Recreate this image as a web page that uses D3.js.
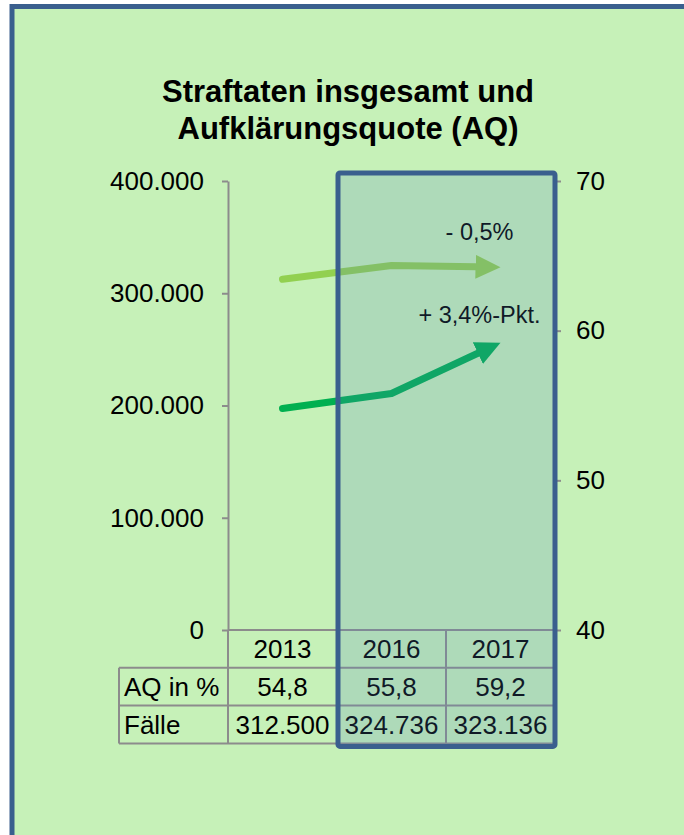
<!DOCTYPE html>
<html>
<head>
<meta charset="utf-8">
<script src="https://cdn.jsdelivr.net/npm/d3@7"></script>
<style>
  body { margin: 0; background: #fff; }
  text { font-family: "Liberation Sans", Arial, sans-serif; }
</style>
</head>
<body>
<div class="chart"></div>
<script>
// chart data
const years = ['2013', '2016', '2017'];
const faelle = [312500, 324736, 323136];
const aq = [54.8, 55.8, 59.2];
const leftTicks = [0, 100000, 200000, 300000, 400000];
const rightTicks = [40, 50, 60, 70];
const rowLabels = ['AQ in %', 'Fälle'];
const highlightYears = ['2016', '2017'];
const titleLines = ['Straftaten insgesamt und', 'Aufklärungsquote (AQ)'];
const changeLabels = ['- 0,5%', '+ 3,4%-Pkt.'];

const de = d3.formatLocale({ decimal: ',', thousands: '.', grouping: [3], currency: ['', ' €'] });
const fmtInt = de.format(',d');
const fmtPct = de.format(',.1f');

const W = 684, H = 835;
const margin = { top: 181, right: 129, bottom: 205, left: 228 };
const rowH = 37.8;
const fs = 26;

const svg = d3.select('.chart').append('svg')
    .attr('width', W)
    .attr('height', H);

// panel background + frame
svg.append('rect')
    .attr('x', 12).attr('y', 6.5)
    .attr('width', W + 20).attr('height', H + 20)
    .attr('fill', '#c6f1b8')
    .attr('stroke', '#3a5f8e')
    .attr('stroke-width', 5);

// title
svg.append('text')
    .attr('x', 348)
    .attr('text-anchor', 'middle')
    .attr('font-weight', 'bold')
    .attr('font-size', 31)
    .selectAll('tspan')
    .data(titleLines)
    .join('tspan')
    .attr('x', 348)
    .attr('y', (d, i) => 102 + i * 37)
    .text(d => d);

// scales
let xScale = d3.scaleBand()
    .domain(years)
    .range([margin.left, W - margin.right]);

let yLeft = d3.scaleLinear()
    .domain([0, 400000])
    .range([H - margin.bottom, margin.top]);

let yRight = d3.scaleLinear()
    .domain([40, 70])
    .range([H - margin.bottom, margin.top]);

const cx = d => xScale(d) + xScale.bandwidth() / 2;

// axes
const leftAxis = d3.axisLeft(yLeft)
    .tickValues(leftTicks)
    .tickFormat(fmtInt)
    .tickSize(6)
    .tickSizeOuter(0)
    .tickPadding(18);

const rightAxis = d3.axisRight(yRight)
    .tickValues(rightTicks)
    .tickSize(6)
    .tickSizeOuter(0)
    .tickPadding(15);

function styleAxis(g) {
    g.select('.domain').attr('stroke', '#8c8c8c').attr('stroke-width', 2);
    g.selectAll('.tick line').attr('stroke', '#8c8c8c').attr('stroke-width', 2);
    g.selectAll('.tick text').attr('fill', '#000').attr('font-size', fs)
        .attr('font-family', '"Liberation Sans", Arial, sans-serif');
}

svg.append('g')
    .attr('class', 'axis y-left')
    .attr('transform', `translate(${margin.left},0)`)
    .call(leftAxis)
    .call(styleAxis);

svg.append('g')
    .attr('class', 'axis y-right')
    .attr('transform', `translate(${W - margin.right},0)`)
    .call(rightAxis)
    .call(styleAxis);

// data table below the plot
const tableTop = H - margin.bottom;
const x0 = margin.left, x1 = W - margin.right;
const labelX = x0 - xScale.bandwidth();
const table = svg.append('g').attr('class', 'table');
const gray = '#8c8c8c';

// horizontal rules
table.selectAll('.hrule')
    .data([0, 1, 2, 3])
    .join('line')
    .attr('x1', d => d === 0 ? x0 : labelX)
    .attr('x2', x1)
    .attr('y1', d => tableTop + d * rowH)
    .attr('y2', d => tableTop + d * rowH)
    .attr('stroke', gray)
    .attr('stroke-width', 2);

// vertical rules
const edges = years.map(d => xScale(d)).concat([x1]);
table.selectAll('.vrule')
    .data(edges)
    .join('line')
    .attr('x1', d => d).attr('x2', d => d)
    .attr('y1', tableTop)
    .attr('y2', tableTop + 3 * rowH)
    .attr('stroke', gray)
    .attr('stroke-width', 2);

table.append('line')
    .attr('x1', labelX).attr('x2', labelX)
    .attr('y1', tableTop + rowH)
    .attr('y2', tableTop + 3 * rowH)
    .attr('stroke', gray)
    .attr('stroke-width', 2);

const rows = [years, aq.map(fmtPct), faelle.map(fmtInt)];
rows.forEach((row, r) => {
    table.selectAll('.cell-' + r)
        .data(row)
        .join('text')
        .attr('x', (d, i) => cx(years[i]))
        .attr('y', tableTop + r * rowH + rowH / 2 + 9)
        .attr('text-anchor', 'middle')
        .attr('font-size', fs)
        .text(d => d);
});

table.selectAll('.rowlabel')
    .data(rowLabels)
    .join('text')
    .attr('x', labelX + 5)
    .attr('y', (d, i) => tableTop + (i + 1) * rowH + rowH / 2 + 9)
    .attr('font-size', fs)
    .text(d => d);

// arrow lines
const headLen = 25, headW = 24;

const defs = svg.append('defs');
function marker(id, color) {
    defs.append('marker')
        .attr('id', id)
        .attr('markerUnits', 'userSpaceOnUse')
        .attr('markerWidth', headLen + 2)
        .attr('markerHeight', headW + 2)
        .attr('viewBox', `0 ${-headW / 2 - 1} ${headLen + 2} ${headW + 2}`)
        .attr('refX', 0)
        .attr('refY', 0)
        .attr('orient', 'auto')
        .append('path')
        .attr('d', `M0,${-headW / 2}L${headLen},0L0,${headW / 2}Z`)
        .attr('fill', color);
}

const series = [
    { id: 'faelle', values: faelle, y: yLeft, color: '#92d050', label: changeLabels[0], dy: -27 },
    { id: 'aq', values: aq, y: yRight, color: '#00b050', label: changeLabels[1], dy: -20 }
];

const line = d3.line();

series.forEach(s => {
    marker('head-' + s.id, s.color);
    let pts = years.map((d, i) => [cx(d), s.y(s.values[i])]);
    // stop the stroke where the arrow head begins
    let [a, b] = pts.slice(-2);
    let len = Math.hypot(b[0] - a[0], b[1] - a[1]);
    let base = [b[0] - (b[0] - a[0]) / len * headLen, b[1] - (b[1] - a[1]) / len * headLen];
    let drawn = pts.slice(0, -1).concat([base]);

    svg.append('path')
        .datum(drawn)
        .attr('d', line)
        .attr('fill', 'none')
        .attr('stroke', s.color)
        .attr('stroke-width', 7)
        .attr('stroke-linecap', 'round')
        .attr('stroke-linejoin', 'round')
        .attr('marker-end', `url(#head-${s.id})`);

    svg.append('text')
        .attr('x', b[0] - 21)
        .attr('y', b[1] + s.dy)
        .attr('text-anchor', 'middle')
        .attr('font-size', 23.5)
        .attr('fill', '#000')
        .text(s.label);
});

// highlight box over the last two years
const hx0 = xScale(highlightYears[0]) + 1;
const hx1 = xScale(highlightYears[1]) + xScale.bandwidth();
const hy0 = yLeft(400000) - 8;
const hy1 = tableTop + 3 * rowH + 3;

svg.append('rect')
    .attr('x', hx0).attr('y', hy0)
    .attr('width', hx1 - hx0).attr('height', hy1 - hy0)
    .attr('fill', '#4f81bd')
    .attr('fill-opacity', 0.2);

svg.append('rect')
    .attr('x', hx0).attr('y', hy0)
    .attr('width', hx1 - hx0).attr('height', hy1 - hy0)
    .attr('rx', 2)
    .attr('fill', 'none')
    .attr('stroke', '#3a5f8e')
    .attr('stroke-width', 5);
</script>
</body>
</html>
